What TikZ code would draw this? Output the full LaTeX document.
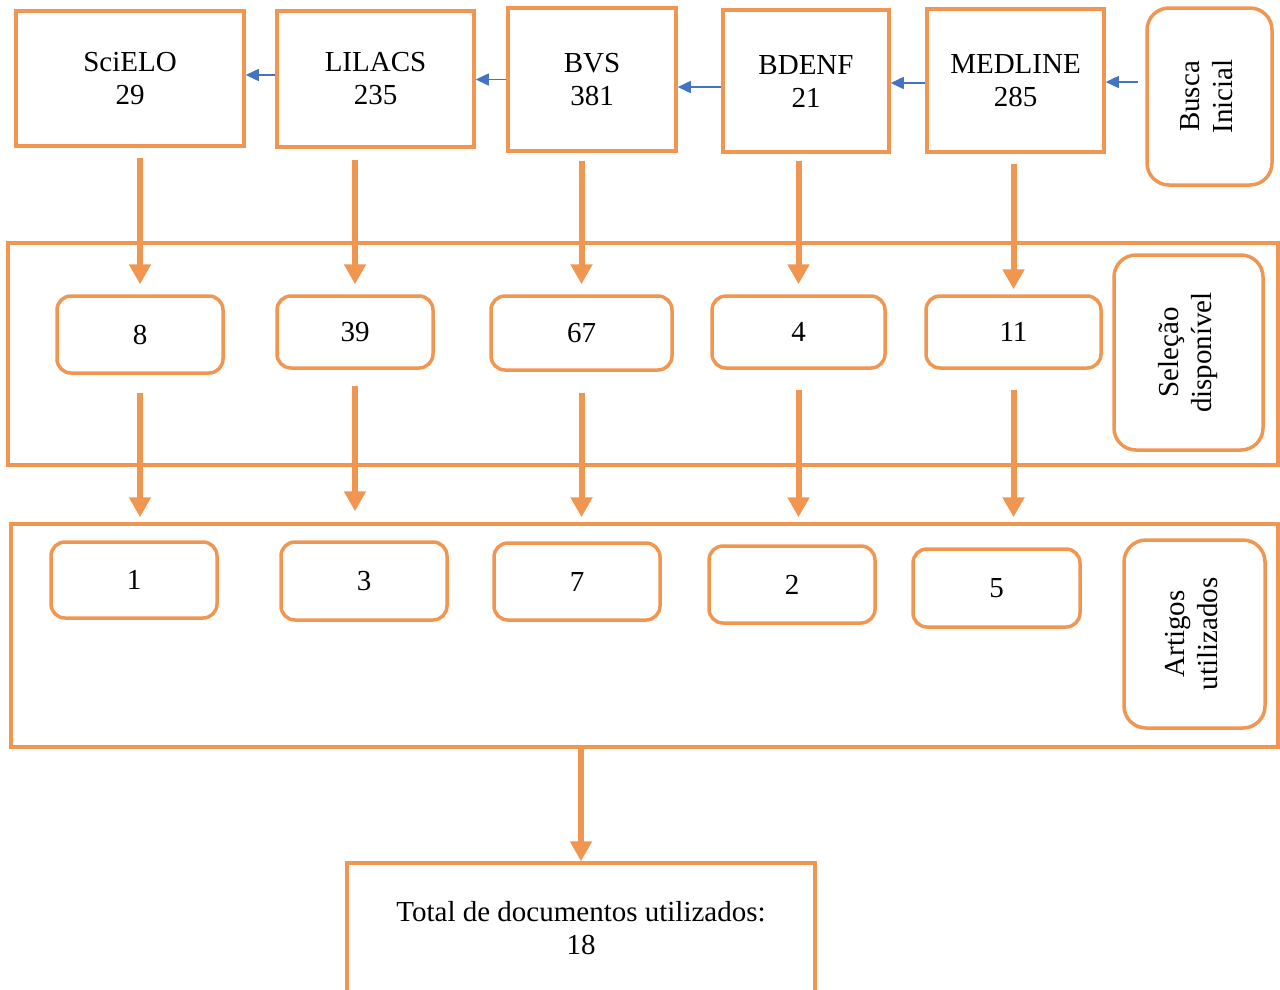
\documentclass[tikz,border=0pt]{standalone}
\usepackage{fontspec}
\setmainfont{Liberation Serif}
\usetikzlibrary{arrows.meta}
\definecolor{org}{RGB}{240,150,80}
\definecolor{blu}{RGB}{68,114,196}
\begin{document}
\begin{tikzpicture}[x=1pt,y=-1pt,
  box/.style={draw=org, line width=3.5pt, inner sep=0pt, align=center, font=\fontsize{29}{33}\selectfont},
  rbox/.style={box, rounded corners=14pt},
  side/.style={box, rounded corners=22pt},
  frame/.style={draw=org, line width=3.5pt, inner sep=0pt},
  harrow/.style={draw=blu, line width=1.5pt, -{Triangle[width=12pt,length=13pt]}},
  varrow/.style={draw=org, line width=6pt, -{Triangle[width=21pt,length=20pt]}}]
\useasboundingbox (0,0) rectangle (1280,989);
% containers
\node[frame, minimum width=1270pt, minimum height=222pt] (cont1) at (643,354) {};
\node[frame, minimum width=1267pt, minimum height=223pt] (cont2) at (644.5,635.5) {};
% top row
\node[box, minimum width=228pt, minimum height=135pt] (scielo) at (130,78.5) {SciELO\\29};
\node[box, minimum width=197pt, minimum height=136pt] (lilacs) at (375.5,79) {LILACS\\235};
\node[box, minimum width=168pt, minimum height=143pt] (bvs) at (592,79.5) {BVS\\381};
\node[box, minimum width=166pt, minimum height=142pt] (bdenf) at (806,81) {BDENF\\21};
\node[box, minimum width=177pt, minimum height=143pt] (medline) at (1015.5,80.5) {MEDLINE\\285};
\node[side, minimum width=125pt, minimum height=177pt] (busca) at (1209.5,96.5)
  {\rotatebox{90}{\begin{tabular}{@{}c@{}}Busca\\Inicial\end{tabular}}};
% selection row
\node[rbox, minimum width=166pt, minimum height=77pt] (s8) at (140,334.5) {8};
\node[rbox, minimum width=156pt, minimum height=72pt] (s39) at (355,332) {39};
\node[rbox, minimum width=181pt, minimum height=74pt] (s67) at (581.5,333) {67};
\node[rbox, minimum width=173pt, minimum height=72pt] (s4) at (798.5,332) {4};
\node[rbox, minimum width=175pt, minimum height=72pt] (s11) at (1013.5,332) {11};
\node[side, minimum width=149pt, minimum height=195pt] (sel) at (1188.5,352.5)
  {\rotatebox{90}{\begin{tabular}{@{}c@{}}Seleção\\disponível\end{tabular}}};
% articles row
\node[rbox, minimum width=166pt, minimum height=76pt] (a1) at (134,580) {1};
\node[rbox, minimum width=166pt, minimum height=78pt] (a3) at (364,581) {3};
\node[rbox, minimum width=166pt, minimum height=77pt] (a7) at (577,581.5) {7};
\node[rbox, minimum width=166pt, minimum height=77pt] (a2) at (792,584.5) {2};
\node[rbox, minimum width=167pt, minimum height=78pt] (a5) at (996.5,588) {5};
\node[side, minimum width=141pt, minimum height=188pt] (art) at (1194.5,634)
  {\rotatebox{90}{\begin{tabular}{@{}c@{}}Artigos\\utilizados\end{tabular}}};
% total
\node[box, minimum width=468pt, minimum height=130pt] (total) at (581,928)
  {Total de documentos utilizados:\\18};
% blue arrows
\draw[harrow, shorten <=7pt] ([yshift=14.5pt]busca.west) -- ([yshift=14.5pt]busca.west -| medline.east);
\draw[harrow] ([yshift=-2.5pt]medline.west) -- ([yshift=-2.5pt]medline.west -| bdenf.east);
\draw[harrow] ([yshift=-6pt]bdenf.west) -- ([yshift=-6pt]bdenf.west -| bvs.east);
\draw[harrow] (bvs.west) -- (bvs.west -| lilacs.east);
\draw[harrow] ([yshift=4pt]lilacs.west) -- ([yshift=4pt]lilacs.west -| scielo.east);
% orange arrows row 1
\draw[varrow, shorten <=10pt, shorten >=10pt] (s8.north |- scielo.south) -- (s8.north);
\draw[varrow, shorten <=11pt, shorten >=10pt] (s39.north |- lilacs.south) -- (s39.north);
\draw[varrow, shorten <=8pt, shorten >=10pt] (s67.north |- bvs.south) -- (s67.north);
\draw[varrow, shorten <=7pt, shorten >=10pt] (s4.north |- bdenf.south) -- (s4.north);
\draw[varrow, shorten <=10pt, shorten >=5pt] (s11.north |- medline.south) -- (s11.north);
% orange arrows row 2
\draw[varrow, shorten <=18pt, shorten >=5pt] (s8.south) -- (s8.south |- cont2.north);
\draw[varrow, shorten <=16pt, shorten >=11pt] (s39.south) -- (s39.south |- cont2.north);
\draw[varrow, shorten <=21pt, shorten >=5pt] (s67.south) -- (s67.south |- cont2.north);
\draw[varrow, shorten <=20pt, shorten >=5pt] (s4.south) -- (s4.south |- cont2.north);
\draw[varrow, shorten <=20pt, shorten >=5pt] (s11.south) -- (s11.south |- cont2.north);
% to total
\draw[varrow] (total.north |- cont2.south) -- (total.north);
\end{tikzpicture}
\end{document}
